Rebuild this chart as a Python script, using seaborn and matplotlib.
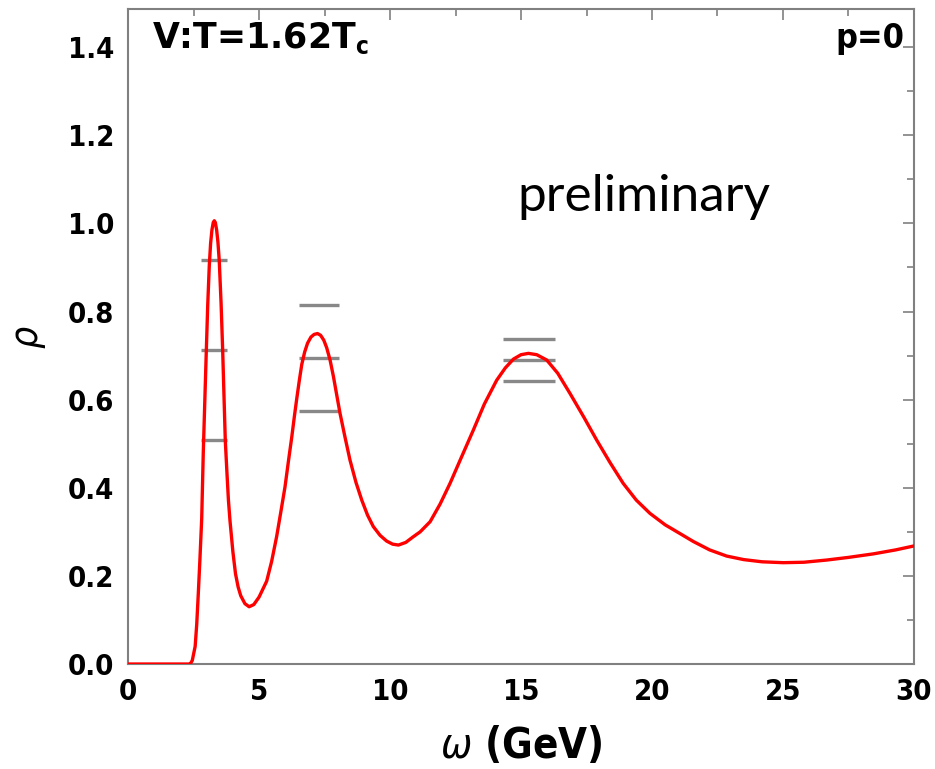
import matplotlib
matplotlib.use("Agg")
import matplotlib.pyplot as plt
import seaborn as sns
import pandas as pd
from matplotlib.ticker import MultipleLocator

# Spectral function rho(omega)
omega = [0.0, 1.0, 2.0, 2.30, 2.37, 2.45, 2.56, 2.62, 2.68, 2.74, 2.81, 2.87, 2.93,
         2.98, 3.04, 3.10, 3.15, 3.20, 3.25, 3.29, 3.33, 3.38, 3.43, 3.48, 3.55,
         3.61, 3.66, 3.71, 3.77, 3.83, 3.89, 4.00, 4.10, 4.20, 4.30, 4.46, 4.62,
         4.80, 5.00, 5.29, 5.48, 5.67, 5.83, 5.99, 6.12, 6.25, 6.35, 6.44, 6.54,
         6.63, 6.74, 6.85, 6.98, 7.10, 7.23, 7.35, 7.47, 7.58, 7.71, 7.84, 7.96,
         8.09, 8.28, 8.47, 8.70, 8.92, 9.14, 9.36, 9.62, 9.87, 10.10, 10.32, 10.60,
         10.89, 11.15, 11.53, 11.91, 12.29, 12.70, 13.18, 13.60, 14.07, 14.40,
         14.71, 15.00, 15.28, 15.60, 15.98, 16.40, 16.87, 17.40, 17.89, 18.40,
         18.90, 19.40, 19.92, 20.50, 21.07, 21.58, 22.20, 22.85, 23.50, 24.20,
         25.01, 25.80, 26.67, 27.50, 28.45, 29.30, 30.0]
rho = [0.0, 0.0, 0.0, 0.0, 0.0, 0.008, 0.040, 0.090, 0.160, 0.235, 0.330, 0.480, 0.600,
       0.700, 0.815, 0.905, 0.955, 0.985, 1.002, 1.006, 1.002, 0.985, 0.957, 0.915, 0.818,
       0.713, 0.610, 0.508, 0.438, 0.372, 0.325, 0.255, 0.205, 0.175, 0.155, 0.137, 0.130,
       0.135, 0.152, 0.188, 0.233, 0.289, 0.345, 0.402, 0.460, 0.516, 0.563, 0.603, 0.645,
       0.680, 0.708, 0.728, 0.742, 0.748, 0.750, 0.746, 0.735, 0.718, 0.690, 0.652, 0.612,
       0.569, 0.515, 0.463, 0.412, 0.372, 0.338, 0.312, 0.292, 0.279, 0.272, 0.270, 0.276,
       0.289, 0.300, 0.323, 0.363, 0.410, 0.466, 0.531, 0.590, 0.644, 0.672,
       0.692, 0.702, 0.705, 0.702, 0.690, 0.660, 0.614, 0.560, 0.508, 0.457,
       0.410, 0.372, 0.342, 0.316, 0.296, 0.278, 0.259, 0.245, 0.237, 0.232,
       0.230, 0.231, 0.236, 0.242, 0.250, 0.259, 0.268]

# Horizontal reference levels around each peak
bar_left = [2.79, 2.79, 2.79, 6.54, 6.54, 6.54, 14.30, 14.30, 14.30]
bar_right = [3.78, 3.78, 3.78, 8.06, 8.06, 8.06, 16.30, 16.30, 16.30]
bar_level = [0.917, 0.713, 0.508, 0.815, 0.694, 0.574, 0.737, 0.690, 0.643]

x_ticks = [0, 5, 10, 15, 20, 25, 30]
y_ticks = [0.0, 0.2, 0.4, 0.6, 0.8, 1.0, 1.2, 1.4]

sns.set_theme(style="white")
plt.rcParams["font.family"] = ["DejaVu Sans"]
plt.rcParams["font.stretch"] = "condensed"
plt.rcParams["mathtext.fontset"] = "dejavusans"
plt.rcParams["text.color"] = "black"
plt.rcParams["axes.labelcolor"] = "black"

df = pd.DataFrame({"omega": omega, "rho": rho})

fig = plt.figure(figsize=(9.35, 7.69), dpi=100)
ax = fig.add_axes([0.137, 0.1365, 0.8405, 0.8515])

ax.hlines(bar_level, bar_left, bar_right, colors="#888888", linewidth=2.4, zorder=2)
sns.lineplot(data=df, x="omega", y="rho", ax=ax, color="red", linewidth=2.4,
             zorder=3, sort=False)

ax.set_xlim(0, 30)
ax.set_ylim(0, 1.486)
ax.set_xticks(x_ticks)
ax.set_yticks(y_ticks)
ax.set_xticklabels([str(t) for t in x_ticks])
ax.set_yticklabels([f"{t:.1f}" for t in y_ticks])
ax.xaxis.set_minor_locator(MultipleLocator(2.5))
ax.yaxis.set_minor_locator(MultipleLocator(0.1))

for s in ax.spines.values():
    s.set_color("#808080")
    s.set_linewidth(1.5)
    s.set_visible(True)

ax.tick_params(which="both", direction="in", top=True, right=True,
               color="#808080", width=1.2)
ax.tick_params(which="major", length=8)
ax.tick_params(which="minor", length=5)
ax.tick_params(axis="both", which="major", labelsize=21, pad=10,
               labelcolor="black")
for lab in ax.get_xticklabels() + ax.get_yticklabels():
    lab.set_fontweight("bold")
    lab.set_fontstretch("condensed")

ax.set_xlabel(r"$\omega$ (GeV)", fontsize=30, fontweight="bold", labelpad=14)
ax.set_ylabel(r"$\rho$", fontsize=28, labelpad=14)

ax.text(0.03, 0.955, r"V:T=1.62T$_{\mathbf{c}}$", transform=ax.transAxes,
        fontsize=25, fontweight="bold", fontstretch="normal",
        ha="left", va="center")
ax.text(0.988, 0.955, "p=0", transform=ax.transAxes,
        fontsize=24.5, fontweight="bold", ha="right", va="center")
ax.text(0.495, 0.713, "preliminary", transform=ax.transAxes,
        fontsize=37, family=["Lato", "DejaVu Sans"], ha="left", va="center")

fig.savefig("out.png", dpi=100)
